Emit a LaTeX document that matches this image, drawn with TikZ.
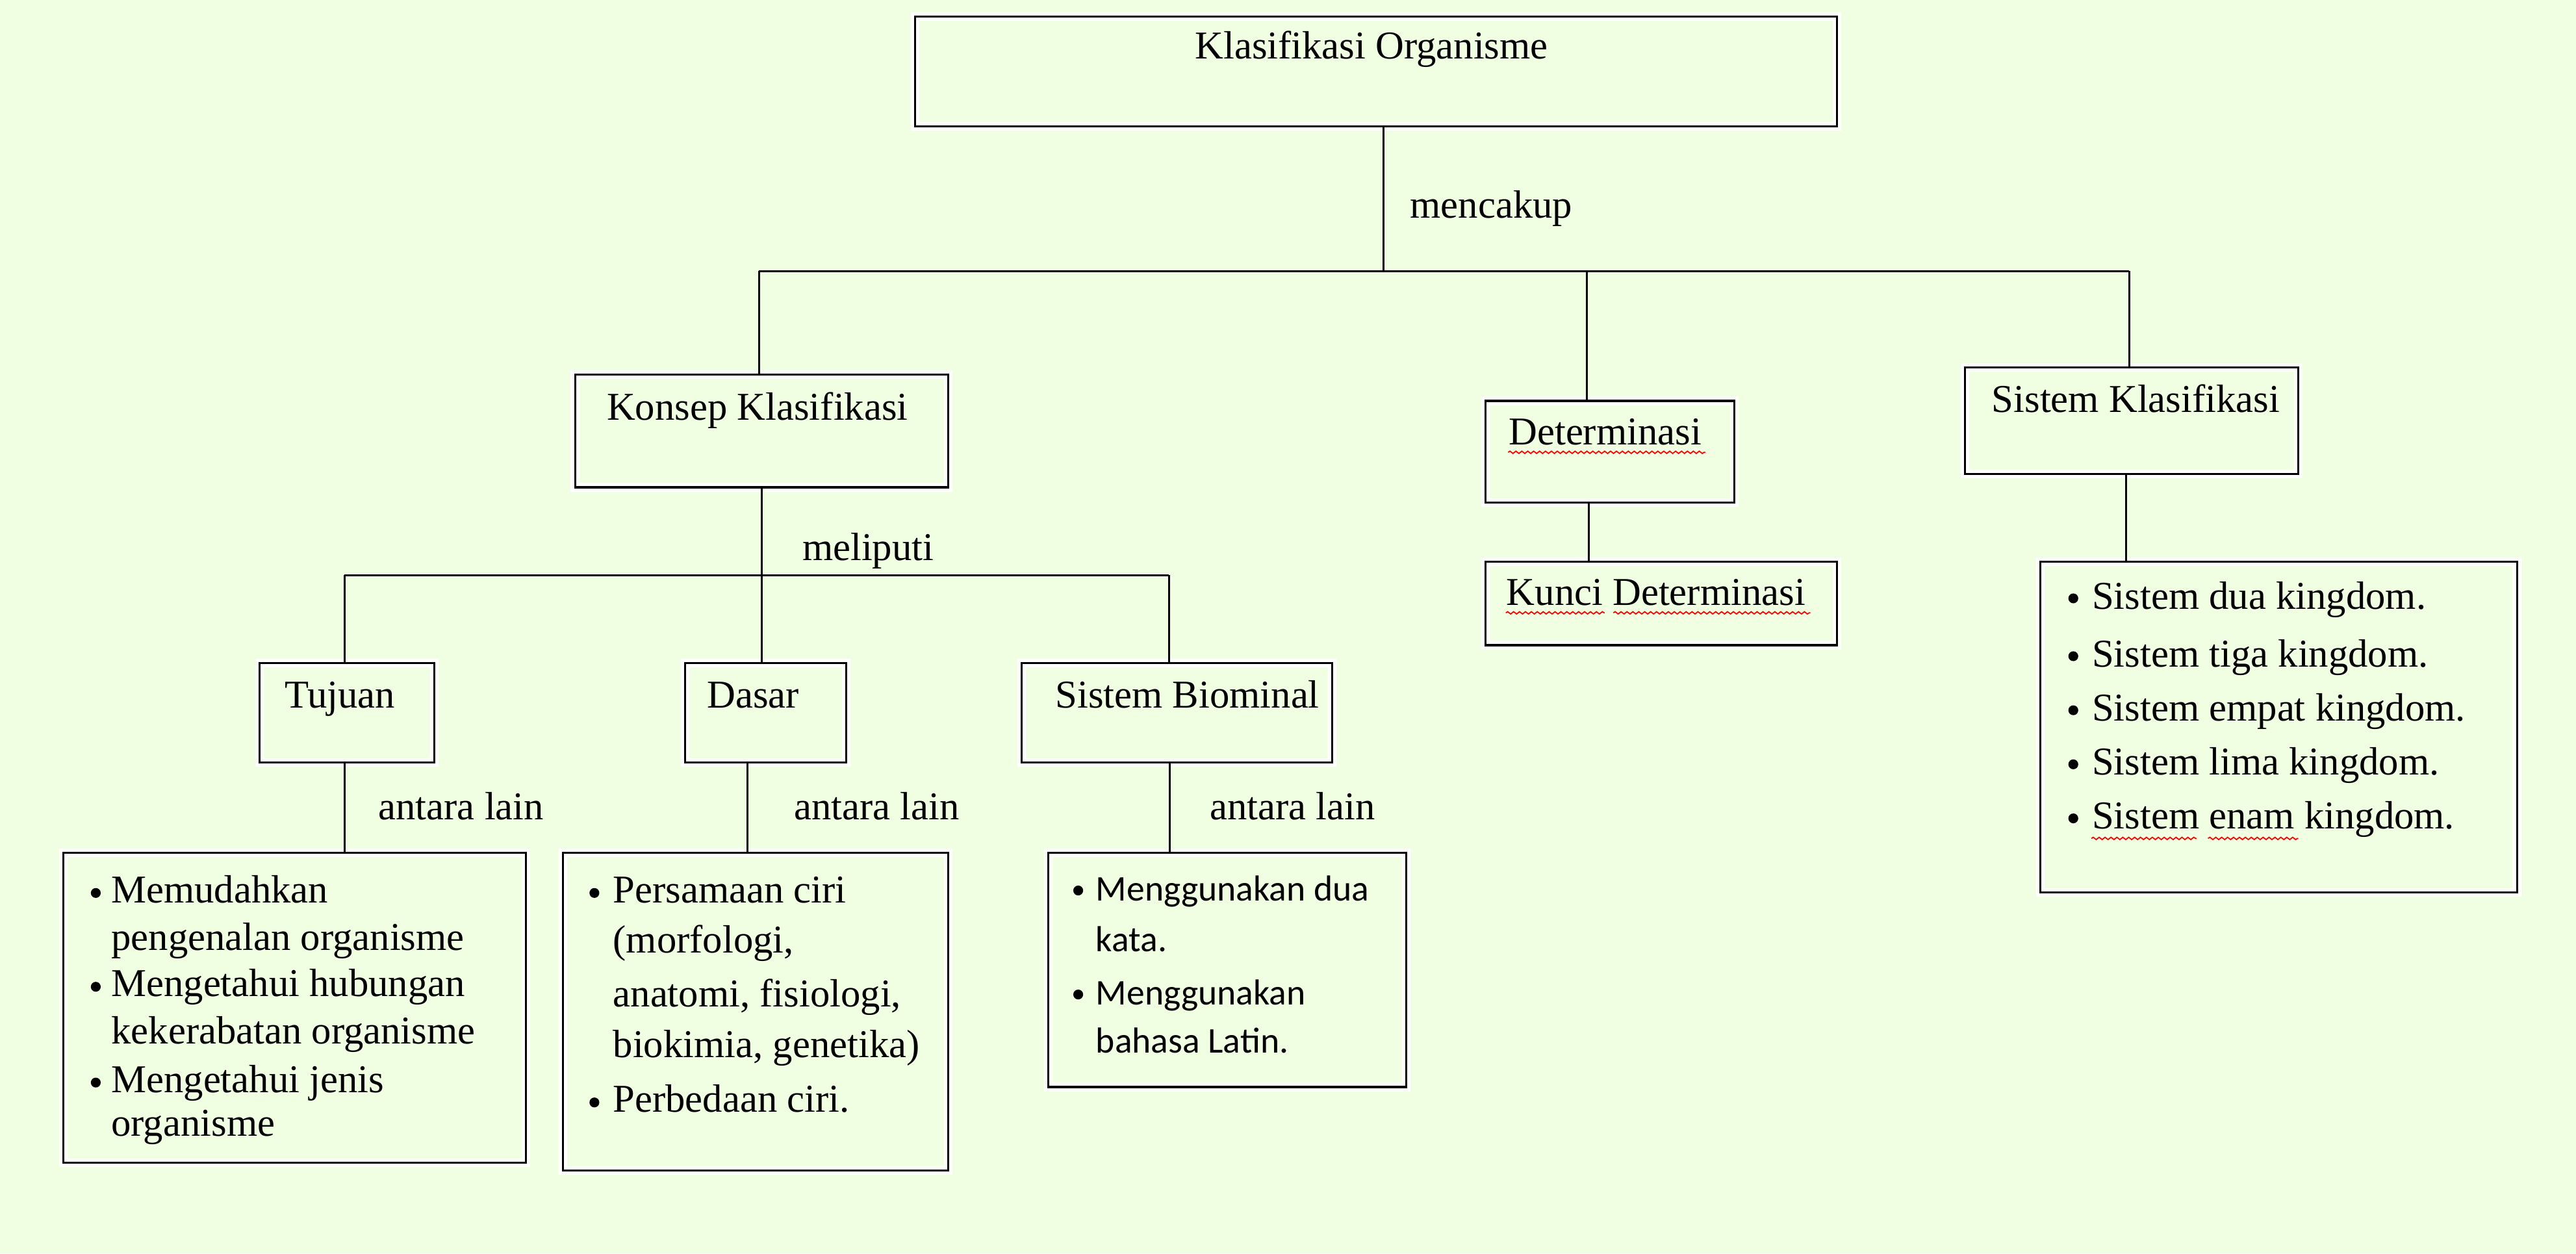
\documentclass[tikz,border=0pt]{standalone}
\usepackage{fontspec}
\setmainfont{Liberation Serif}
\newfontfamily\calib{Carlito}
\usetikzlibrary{fit,decorations.pathmorphing}
\definecolor{bg}{RGB}{240,254,226}
\begin{document}
\begin{tikzpicture}[x=0.5pt,y=-0.5pt,
  box/.style={draw=black, line width=0.6pt, inner sep=0pt,
    preaction={draw=white, line width=2.6pt}},
  conn/.style={draw=black, line width=0.6pt},
  txt/.style={anchor=base west, inner sep=0pt, font=\fontsize{12}{14.4}\selectfont},
  ctxt/.style={anchor=base west, inner sep=0pt, font=\calib\fontsize{11}{13.2}\selectfont},
  bul/.style={circle, fill=black, inner sep=0pt, minimum size=3pt},
  spell/.style={draw=red, line width=0.35pt, decorate,
    decoration={snake, amplitude=0.35pt, segment length=1.8pt}}]
\fill[bg] (0,0) rectangle (1568,763);
\useasboundingbox (0,0) rectangle (1568,763);

% boxes
\node[box, fit={(557,10) (1118,77)}] (top) {};
\node[box, fit={(350,228) (577,296.6)}] (konsep) {};
\node[box, fit={(904.2,244) (1055.6,306)}] (det) {};
\node[box, fit={(904.2,342) (1118,392.7)}] (kunci) {};
\node[box, fit={(1196,223.8) (1399,288.5)}] (sk) {};
\node[box, fit={(1242,342) (1532,543)}] (sklist) {};
\node[box, fit={(158,403.7) (264.5,464)}] (tujuan) {};
\node[box, fit={(417,403.7) (515,464)}] (dasar) {};
\node[box, fit={(622,403.7) (811,464)}] (biom) {};
\node[box, fit={(38.6,519) (320,707.8)}] (tlist) {};
\node[box, fit={(342.5,519) (577,712.4)}] (dlist) {};
\node[box, fit={(638,519) (856,661.6)}] (blist) {};

% connectors
\coordinate (j0) at (842,165);
\coordinate (hL) at (462,165);
\coordinate (hM) at (966,165);
\coordinate (hR) at (1296,165);
\draw[conn] (top.south -| j0) -- (j0);
\draw[conn] (hL) -- (hR);
\draw[conn] (hL) -- (konsep.north -| hL);
\draw[conn] (hM) -- (det.north -| hM);
\draw[conn] (hR) -- (sk.north -| hR);
\coordinate (k0) at (463.6,350);
\coordinate (kL) at (209.6,350);
\coordinate (kR) at (711.5,350);
\draw[conn] (konsep.south -| k0) -- (dasar.north -| k0);
\draw[conn] (kL) -- (kR);
\draw[conn] (kL) -- (tujuan.north -| kL);
\draw[conn] (kR) -- (biom.north -| kR);
\coordinate (tx) at (209.6,490);
\coordinate (dx) at (455,490);
\coordinate (bx) at (712,490);
\draw[conn] (tujuan.south -| tx) -- (tlist.north -| tx);
\draw[conn] (dasar.south -| dx) -- (dlist.north -| dx);
\draw[conn] (biom.south -| bx) -- (blist.north -| bx);
\coordinate (detx) at (967,320);
\coordinate (skx) at (1294.3,320);
\draw[conn] (det.south -| detx) -- (kunci.north -| detx);
\draw[conn] (sk.south -| skx) -- (sklist.north -| skx);

% titles
\node[txt] (ttop) at (727,35.9) {Klasifikasi Organisme};
\node[txt] (lmenc) at (858,132.5) {mencakup};
\node[txt] (tkonsep) at (369,255.5) {Konsep Klasifikasi};
\node[txt] (lmel) at (488,341) {meliputi};
\node[txt] (ttuj) at (173,431) {Tujuan};
\node[txt] (tdas) at (430,431) {Dasar};
\node[txt] (tbio) at (642,431) {Sistem Biominal};
\node[txt] (la1) at (230,499) {antara lain};
\node[txt] (la2) at (483,499) {antara lain};
\node[txt] (la3) at (736,499) {antara lain};
\node[txt] (tdet) at (918,270.8) {Determinasi};
\node[txt] (tkun) at (916.6,368.4) {Kunci Determinasi};
\node[txt] (tsk) at (1212,251) {Sistem Klasifikasi};

% Tujuan list
\node[bul] (tb1) at (58.3,543.5) {};
\node[txt] (t1a) at (67.4,549.5) {Memudahkan};
\node[txt] (t1b) at (67.4,578.3) {pengenalan organisme};
\node[bul] (tb2) at (58.3,600.6) {};
\node[txt] (t2a) at (67.4,606.6) {Mengetahui hubungan};
\node[txt] (t2b) at (67.4,635.2) {kekerabatan organisme};
\node[bul] (tb3) at (58.3,658.9) {};
\node[txt] (t3a) at (67.4,664.9) {Mengetahui jenis};
\node[txt] (t3b) at (67.4,691.5) {organisme};

% Dasar list
\node[bul] (db1) at (361.8,543.5) {};
\node[txt] (d1a) at (372.8,549.5) {Persamaan ciri};
\node[txt] (d1b) at (372.8,580) {(morfologi,};
\node[txt] (d1c) at (372.8,612.6) {anatomi, fisiologi,};
\node[txt] (d1d) at (372.8,643.5) {biokimia, genetika)};
\node[bul] (db2) at (361.8,671) {};
\node[txt] (d2a) at (372.8,677) {Perbedaan ciri.};

% Biominal list
\node[bul] (bb1) at (656.3,542) {};
\node[ctxt] (b1a) at (666.7,548.3) {Menggunakan dua};
\node[ctxt] (b1b) at (666.7,579) {kata.};
\node[bul] (bb2) at (656.3,605.3) {};
\node[ctxt] (b2a) at (666.7,611.6) {Menggunakan};
\node[ctxt] (b2b) at (666.7,641) {bahasa Latin.};

% Sistem Klasifikasi list
\node[bul] (sb1) at (1262,364.2) {};
\node[txt] (s1) at (1273,370.7) {Sistem dua kingdom.};
\node[bul] (sb2) at (1262,399.4) {};
\node[txt] (s2) at (1273,405.9) {Sistem tiga kingdom.};
\node[bul] (sb3) at (1262,432.3) {};
\node[txt] (s3) at (1273,438.8) {Sistem empat kingdom.};
\node[bul] (sb4) at (1262,465.2) {};
\node[txt] (s4) at (1273,471.7) {Sistem lima kingdom.};
\node[bul] (sb5) at (1262,498.1) {};
\node[txt] (s5) at (1273,504.6) {Sistem enam kingdom.};

% spell-check underlines
\draw[spell] (918,275.3) -- (1038,275.3);
\draw[spell] (916.6,373) -- (976.7,373);
\draw[spell] (982,373) -- (1102,373);
\draw[spell] (1273,510.3) -- (1337,510.3);
\draw[spell] (1344,510.3) -- (1399,510.3);
\end{tikzpicture}
\end{document}
